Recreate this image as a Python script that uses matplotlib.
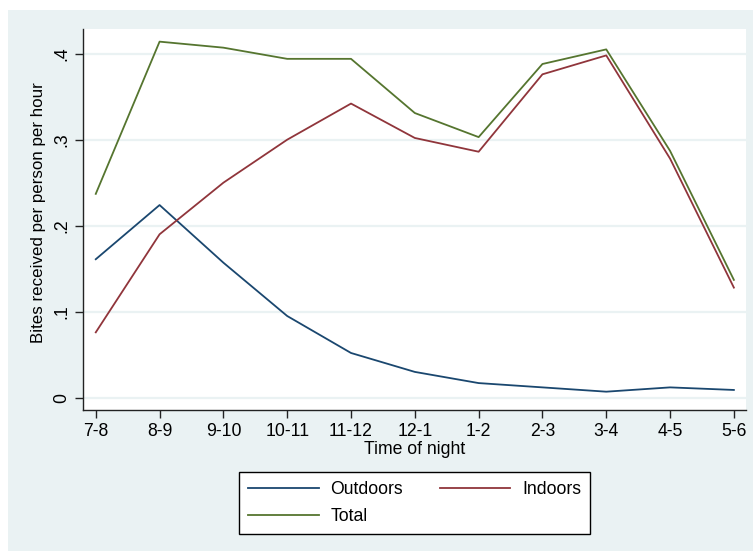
import matplotlib

matplotlib.use("Agg")
import matplotlib.pyplot as plt
from matplotlib.patches import Rectangle

# Data
hours = ["7-8", "8-9", "9-10", "10-11", "11-12", "12-1", "1-2", "2-3", "3-4", "4-5", "5-6"]
outdoors = [0.161, 0.224, 0.157, 0.095, 0.052, 0.030, 0.017, 0.012, 0.007, 0.012, 0.009]
indoors = [0.076, 0.190, 0.250, 0.300, 0.342, 0.302, 0.286, 0.376, 0.398, 0.278, 0.128]
total = [0.237, 0.414, 0.407, 0.394, 0.394, 0.331, 0.303, 0.388, 0.405, 0.287, 0.137]
yticks = [0, 0.1, 0.2, 0.3, 0.4]
ytick_labels = ["0", ".1", ".2", ".3", ".4"]

NAVY = "#1a476f"
MAROON = "#90353b"
GREEN = "#55752f"
BG = "#eaf2f3"

plt.rcParams["font.family"] = ["Liberation Sans", "DejaVu Sans"]

W, H = 753, 551
fig = plt.figure(figsize=(W / 100, H / 100), dpi=100)
fig.patch.set_facecolor("white")
fig.patches.append(Rectangle((8 / W, 0), 1 - 8 / W, 1 - 10 / H, transform=fig.transFigure,
                             facecolor=BG, edgecolor="none", zorder=-10))

ax = fig.add_axes([83 / W, (H - 410) / H, (746 - 83) / W, (410 - 29) / H])
ax.set_zorder(1)
ax.set_facecolor("white")

x = list(range(len(hours)))
l_out, = ax.plot(x, outdoors, color=NAVY, lw=1.3, label="Outdoors")
l_in, = ax.plot(x, indoors, color=MAROON, lw=1.3, label="Indoors")
l_tot, = ax.plot(x, total, color=GREEN, lw=1.3, label="Total")

ax.set_xlim(-0.2, 10.19)
ax.set_ylim(-0.0143, 0.4287)
ax.set_xticks(x)
ax.set_xticklabels(hours, fontsize=12.7)
ax.set_yticks(yticks)
ax.set_yticklabels(ytick_labels, fontsize=12.7, rotation=90, va="center")
ax.grid(axis="y", color=BG, lw=1.6)
ax.set_axisbelow(True)

for s in ("top", "right"):
    ax.spines[s].set_visible(False)
for s in ("left", "bottom"):
    ax.spines[s].set_color("#222222")
    ax.spines[s].set_linewidth(1.0)
ax.tick_params(direction="out", length=6, width=1.0, color="#222222", pad=3)

ax.set_xlabel("Time of night", fontsize=12.7, labelpad=1)
ax.set_ylabel("Bites received per person per hour", fontsize=12.2)
ax.yaxis.set_label_coords(-0.056, 0.517)

# column-major fill: Outdoors/Total in col 1, Indoors in col 2
leg = fig.legend([l_out, l_tot, l_in], ["Outdoors", "Total", "Indoors"], ncol=2,
                 loc="center", bbox_to_anchor=((236 + 593) / 2 / W, 1 - (472 + 534) / 2 / H),
                 fontsize=12.7, frameon=True, fancybox=False, framealpha=1, handlelength=4.0,
                 handletextpad=0.66, columnspacing=2.1, labelspacing=0.55, borderpad=0.5)
leg.get_frame().set_edgecolor("black")
leg.get_frame().set_linewidth(1.0)
leg.get_frame().set_facecolor("white")

fig.savefig("out.png", dpi=100)
